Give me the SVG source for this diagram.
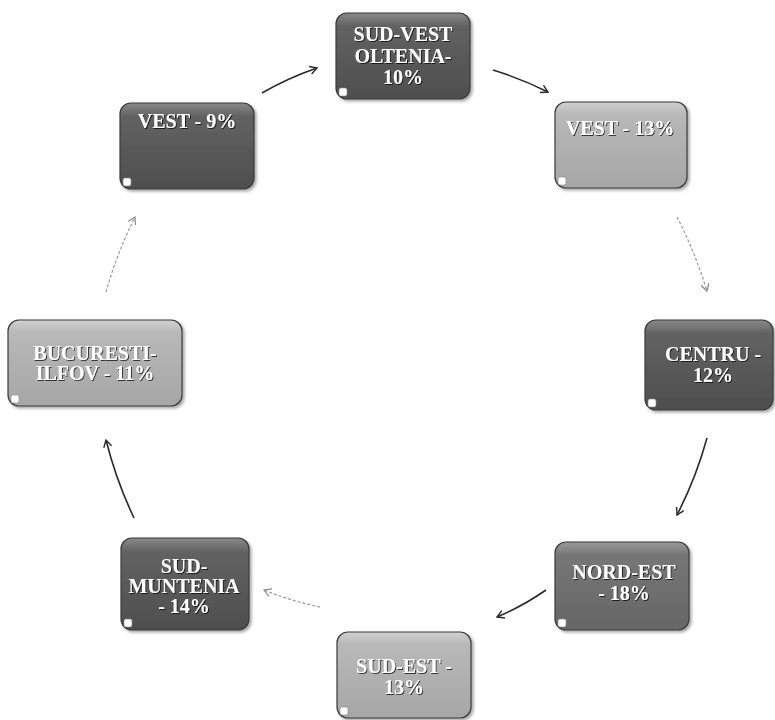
<svg xmlns="http://www.w3.org/2000/svg" width="775" height="720" viewBox="0 0 775 720">
<style>
.lbl{font-family:"Liberation Serif","Times New Roman",serif;font-weight:bold;font-size:20px;fill:#ffffff;text-anchor:middle;filter:url(#sh)}
.box{stroke:#3a3a3a;stroke-width:1.2}
.dark{fill:url(#gDark)}
.mid{fill:url(#gMid)}
.light{fill:url(#gLight)}
.curl{fill:#ffffff;stroke:#888;stroke-width:0.6}
.cd{fill:none;stroke:#2a2a2a;stroke-width:1.6;marker-end:url(#ahD)}
.cl{fill:none;stroke:#9a9a9a;stroke-width:1.2;stroke-dasharray:3 2;marker-end:url(#ahL)}
</style>
<defs>
<linearGradient id="gDark" x1="0" y1="0" x2="0" y2="1">
<stop offset="0" stop-color="#8a8a8a"/><stop offset="0.15" stop-color="#626262"/><stop offset="1" stop-color="#4e4e4e"/>
</linearGradient>
<linearGradient id="gMid" x1="0" y1="0" x2="0" y2="1">
<stop offset="0" stop-color="#9a9a9a"/><stop offset="0.15" stop-color="#767676"/><stop offset="1" stop-color="#666666"/>
</linearGradient>
<linearGradient id="gLight" x1="0" y1="0" x2="0" y2="1">
<stop offset="0" stop-color="#d0d0d0"/><stop offset="0.15" stop-color="#b8b8b8"/><stop offset="1" stop-color="#a6a6a6"/>
</linearGradient>
<filter id="sh" x="-20%" y="-40%" width="140%" height="180%">
<feDropShadow dx="1" dy="1" stdDeviation="0.6" flood-color="#000" flood-opacity="0.7"/>
</filter>
<filter id="bs" x="-10%" y="-10%" width="125%" height="125%">
<feDropShadow dx="2" dy="2" stdDeviation="1.5" flood-color="#000" flood-opacity="0.35"/>
</filter>
<marker id="ahD" markerWidth="10" markerHeight="10" refX="8" refY="5" orient="auto" markerUnits="userSpaceOnUse">
<path d="M1,1 L8,5 L1,9" fill="none" stroke="#2a2a2a" stroke-width="1.4"/>
</marker>
<marker id="ahL" markerWidth="10" markerHeight="10" refX="8" refY="5" orient="auto" markerUnits="userSpaceOnUse">
<path d="M1,1 L8,5 L1,9" fill="none" stroke="#8a8a8a" stroke-width="1.2"/>
</marker>
</defs>
<rect width="775" height="720" fill="#ffffff"/>
<g id="connectors">
<path class="cd" d="M262,93 Q288,78 317,68"/>
<path class="cd" d="M493,70 Q522,79 548,92"/>
<path class="cl" d="M677,217 Q695,252 707,291"/>
<path class="cd" d="M707,438 Q696,478 677,515"/>
<path class="cd" d="M546,590 Q523,606 497,617"/>
<path class="cl" d="M320,607 Q291,601 264,590"/>
<path class="cd" d="M134,518 Q116,480 106,440"/>
<path class="cl" d="M106,292 Q117,253 135,217"/>
</g>
<g id="n-sudvest">
<rect class="box dark" x="336" y="13" width="134" height="86" rx="11" filter="url(#bs)"/>
<rect class="curl" x="339" y="88" width="8" height="8" rx="2"/>
<text class="lbl" x="403" y="41">SUD-VEST</text>
<text class="lbl" x="403" y="63">OLTENIA-</text>
<text class="lbl" x="403" y="84">10%</text>
</g>
<g id="n-vest13">
<rect class="box light" x="555" y="102" width="132" height="86" rx="11" filter="url(#bs)"/>
<rect class="curl" x="558" y="177" width="8" height="8" rx="2"/>
<text class="lbl" x="620" y="135">VEST - 13%</text>
</g>
<g id="n-centru">
<rect class="box dark" x="645" y="320" width="128" height="90" rx="11" filter="url(#bs)"/>
<rect class="curl" x="648" y="399" width="8" height="8" rx="2"/>
<text class="lbl" x="713" y="361">CENTRU -</text>
<text class="lbl" x="713" y="382">12%</text>
</g>
<g id="n-nordest">
<rect class="box mid" x="555" y="542" width="134" height="88" rx="11" filter="url(#bs)"/>
<rect class="curl" x="558" y="619" width="8" height="8" rx="2"/>
<text class="lbl" x="624" y="579">NORD-EST</text>
<text class="lbl" x="624" y="600">- 18%</text>
</g>
<g id="n-sudest">
<rect class="box light" x="337" y="632" width="134" height="86" rx="11" filter="url(#bs)"/>
<rect class="curl" x="340" y="707" width="8" height="8" rx="2"/>
<text class="lbl" x="404" y="673">SUD-EST -</text>
<text class="lbl" x="404" y="694">13%</text>
</g>
<g id="n-sudmuntenia">
<rect class="box dark" x="121" y="538" width="128" height="92" rx="11" filter="url(#bs)"/>
<rect class="curl" x="124" y="619" width="8" height="8" rx="2"/>
<text class="lbl" x="184" y="573">SUD-</text>
<text class="lbl" x="184" y="593">MUNTENIA</text>
<text class="lbl" x="184" y="613">- 14%</text>
</g>
<g id="n-bucuresti">
<rect class="box light" x="8" y="320" width="174" height="86" rx="11" filter="url(#bs)"/>
<rect class="curl" x="11" y="395" width="8" height="8" rx="2"/>
<text class="lbl" x="95" y="360">BUCURESTI-</text>
<text class="lbl" x="95" y="380">ILFOV - 11%</text>
</g>
<g id="n-vest9">
<rect class="box dark" x="120" y="103" width="134" height="86" rx="11" filter="url(#bs)"/>
<rect class="curl" x="123" y="178" width="8" height="8" rx="2"/>
<text class="lbl" x="187" y="128">VEST - 9%</text>
</g>
</svg>
